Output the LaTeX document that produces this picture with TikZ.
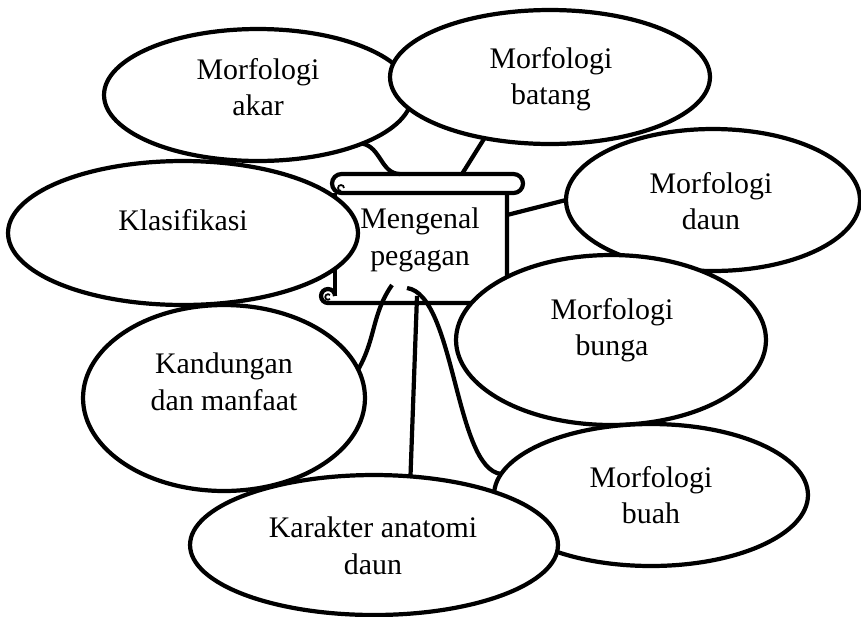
\documentclass[tikz,border=0pt]{standalone}
\usepackage{fontspec}
\setmainfont{Liberation Serif}
\usetikzlibrary{shapes.geometric}

\begin{document}
\begin{tikzpicture}[x=0.02cm, y=-0.02cm,
    bubble/.style={draw, ellipse, fill=white, line width=2.4pt, inner sep=0pt, outer sep=0pt},
    txt/.style={align=center, font=\fontsize{17}{20.8}\selectfont},
    link/.style={line width=2.4pt}]
    \useasboundingbox (0,0) rectangle (861,616);

    % Scroll
    \draw [link, line join=round]
      (341.5,174) -- (513.5,174) arc [start angle=270, end angle=450, radius=9.5]
      -- (341.5,193) arc [start angle=90, end angle=270, radius=9.5] -- cycle;
    \draw [line width=1pt] (344,188) arc [start angle=0, end angle=-270, radius=3];
    \draw [link] (335,193) -- (335,296);
    \draw [link, line join=round] (507,193) -- (507,303) -- (328,303)
      arc [start angle=90, end angle=360, radius=7];
    \draw [line width=1pt] (330,295) arc [start angle=-45, end angle=-315, radius=2.8];
    \path (400,174) coordinate (t1)
          (462,174) coordinate (t2)
          (507,215) coordinate (t3)
          (392,285) coordinate (t4)
          (417,296) coordinate (t5)
          (407,288) coordinate (t6);

    % Bubbles
    \path (258,95) coordinate [bubble, minimum width=6.16cm, minimum height=2.64cm] (akar)
          ++(0,-8) node [txt] (akar-t) {Morfologi\\akar};
    \path (550,77) coordinate [bubble, minimum width=6.4cm, minimum height=2.68cm] (batang)
          ++(1,2) node [txt] (batang-t) {Morfologi\\batang};
    \path (713,200) coordinate [bubble, minimum width=5.88cm, minimum height=2.84cm] (daun)
          ++(-2,1) node [txt] (daun-t) {Morfologi\\daun};
    \path (611,340) coordinate [bubble, minimum width=6.2cm, minimum height=3.4cm] (bunga)
          ++(1,-10) node [txt] (bunga-t) {Morfologi\\bunga};
    \path (183,233) coordinate [bubble, minimum width=7cm, minimum height=2.88cm] (klas)
          ++(0,-13) node [txt] (klas-t) {Klasifikasi};
    \path (224,398) coordinate [bubble, minimum width=5.64cm, minimum height=3.72cm] (kand)
          ++(0,-16) node [txt] (kand-t) {Kandungan\\dan manfaat};
    \path (651,495) coordinate [bubble, minimum width=6.28cm, minimum height=2.84cm] (buah)
          node [txt] (buah-t) {Morfologi\\buah};
    \path (374,545) coordinate [bubble, minimum width=7.36cm, minimum height=2.8cm] (kar)
          ++(-1,1) node [txt] (kar-t) {Karakter anatomi\\daun};

    \node [txt] (pegagan) at (420,240) {Mengenal\\pegagan};

    % Links
    \draw [link] (akar.-25) to [out=-10, in=180] (t1);
    \draw [link] (batang.-137) -- (t2);
    \draw [link] (t3) -- (daun.180);
    \draw [link] (t4) to [out=-125, in=60] (kand.12);
    \draw [link] (t5) -- (kar.62);
    \draw [link] (t6) to [out=-8, in=174, out distance=0.97cm, in distance=0.93cm] (buah.172);
\end{tikzpicture}
\end{document}
